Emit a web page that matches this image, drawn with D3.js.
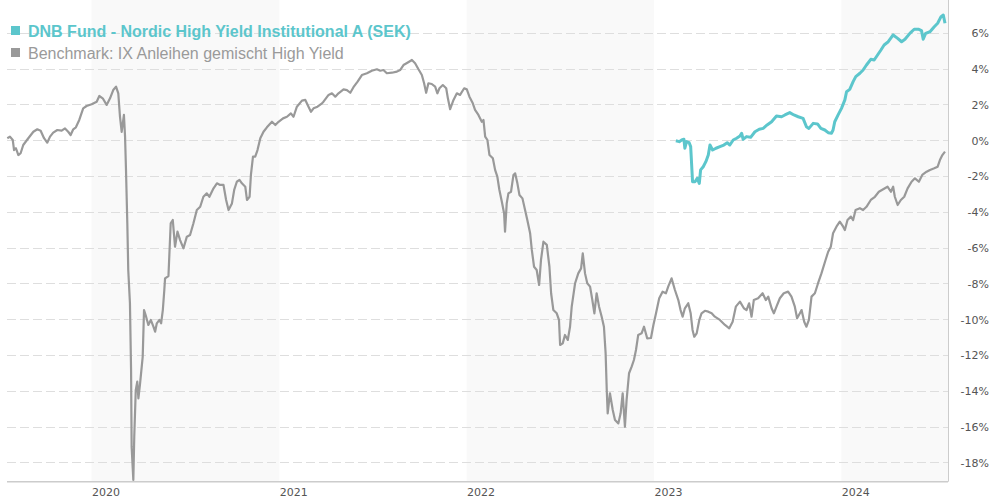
<!DOCTYPE html>
<html>
<head>
<meta charset="utf-8">
<script src="https://cdn.jsdelivr.net/npm/d3@7"></script>
<style>
  html, body { margin: 0; padding: 0; background: #fff; }
  svg { display: block; }
</style>
</head>
<body>
<div id="chart"></div>
<script>
// ---------- DATA (dates as decimal years, values in %) ----------
const seriesNames = ["DNB Fund - Nordic High Yield Institutional A (SEK)", "Benchmark: IX Anleihen gemischt High Yield"];
const xTickLabels = [2020, 2021, 2022, 2023, 2024];
const yTickValues = [6, 4, 2, 0, -2, -4, -6, -8, -10, -12, -14, -16, -18];

const benchmarkDates = [
2019.551,2019.565,2019.580,2019.587,2019.597,2019.610,2019.622,2019.636,2019.663,2019.690,
2019.711,2019.729,2019.747,2019.764,2019.779,2019.796,2019.818,2019.841,2019.859,2019.876,
2019.889,2019.903,2019.917,2019.935,2019.956,2019.974,2020.001,2020.028,2020.042,2020.060,
2020.081,2020.099,2020.116,2020.131,2020.143,2020.152,2020.161,2020.173,2020.179,2020.184,
2020.191,2020.196,2020.205,2020.211,2020.214,2020.223,2020.228,2020.236,2020.244,2020.250,
2020.259,2020.273,2020.280,2020.291,2020.303,2020.316,2020.330,2020.339,2020.348,2020.362,
2020.371,2020.380,2020.388,2020.392,2020.410,2020.422,2020.433,2020.445,2020.458,2020.472,
2020.490,2020.508,2020.525,2020.543,2020.561,2020.579,2020.596,2020.614,2020.628,2020.650,
2020.668,2020.685,2020.703,2020.717,2020.730,2020.748,2020.760,2020.774,2020.788,2020.801,
2020.819,2020.828,2020.842,2020.849,2020.860,2020.872,2020.884,2020.899,2020.916,2020.934,
2020.961,2020.979,2020.996,2021.020,2021.041,2021.062,2021.076,2021.094,2021.121,2021.139,
2021.156,2021.169,2021.183,2021.204,2021.228,2021.236,2021.263,2021.281,2021.299,2021.316,
2021.343,2021.361,2021.379,2021.396,2021.418,2021.441,2021.468,2021.494,2021.521,2021.539,
2021.556,2021.574,2021.601,2021.628,2021.645,2021.663,2021.684,2021.708,2021.725,2021.743,
2021.761,2021.773,2021.784,2021.796,2021.814,2021.832,2021.844,2021.855,2021.873,2021.891,
2021.900,2021.912,2021.930,2021.948,2021.965,2021.987,2022.001,2022.015,2022.033,2022.045,
2022.063,2022.081,2022.090,2022.099,2022.111,2022.122,2022.140,2022.152,2022.164,2022.175,
2022.188,2022.200,2022.205,2022.214,2022.223,2022.237,2022.250,2022.259,2022.271,2022.282,
2022.298,2022.312,2022.324,2022.339,2022.348,2022.360,2022.374,2022.387,2022.397,2022.410,
2022.428,2022.442,2022.451,2022.463,2022.481,2022.493,2022.499,2022.513,2022.525,2022.540,
2022.552,2022.561,2022.579,2022.596,2022.611,2022.620,2022.632,2022.644,2022.659,2022.671,
2022.682,2022.694,2022.707,2022.721,2022.733,2022.742,2022.748,2022.753,2022.765,2022.780,
2022.792,2022.810,2022.822,2022.833,2022.845,2022.854,2022.867,2022.881,2022.893,2022.904,
2022.916,2022.934,2022.947,2022.964,2022.984,2022.997,2023.011,2023.028,2023.046,2023.064,
2023.076,2023.094,2023.112,2023.130,2023.142,2023.153,2023.165,2023.183,2023.196,2023.206,
2023.215,2023.228,2023.242,2023.254,2023.272,2023.290,2023.308,2023.325,2023.352,2023.379,
2023.402,2023.420,2023.437,2023.459,2023.480,2023.494,2023.508,2023.521,2023.533,2023.556,
2023.580,2023.597,2023.610,2023.628,2023.640,2023.654,2023.672,2023.693,2023.716,2023.734,
2023.752,2023.764,2023.779,2023.788,2023.802,2023.814,2023.827,2023.841,2023.859,2023.876,
2023.894,2023.916,2023.930,2023.944,2023.956,2023.974,2023.992,2024.010,2024.019,2024.033,
2024.051,2024.063,2024.076,2024.099,2024.116,2024.134,2024.157,2024.179,2024.200,2024.223,
2024.246,2024.264,2024.276,2024.285,2024.300,2024.317,2024.335,2024.353,2024.374,2024.392,
2024.413,2024.431,2024.454,2024.472,2024.495,2024.513,2024.525,2024.538,2024.552
];
const benchmarkValues = [
0.11,0.20,0.01,-0.55,-0.45,-0.83,-0.73,-0.27,0.11,0.47,
0.61,0.53,0.11,-0.14,0.20,0.42,0.57,0.53,0.66,0.47,
0.29,0.61,0.72,1.13,1.78,1.91,2.01,2.15,2.47,2.34,
1.97,2.34,2.80,2.99,2.62,1.31,0.47,1.41,0.20,-1.66,
-4.64,-7.25,-9.11,-12.84,-17.12,-18.98,-16.56,-13.96,-13.49,-14.42,
-13.58,-12.09,-9.49,-9.86,-10.32,-10.04,-10.42,-10.70,-10.23,-10.04,
-10.23,-9.49,-8.37,-7.72,-7.59,-4.64,-4.46,-5.95,-5.11,-5.58,
-6.04,-5.39,-5.30,-4.64,-3.90,-3.72,-3.16,-2.97,-3.16,-2.69,
-2.41,-2.50,-2.50,-3.34,-3.90,-3.53,-2.78,-2.32,-2.22,-2.41,
-2.60,-3.34,-3.16,-1.94,-0.92,-0.92,-0.55,0.11,0.47,0.72,
1.03,0.85,1.03,1.22,1.31,1.50,1.31,1.87,2.21,2.25,
1.87,1.59,1.78,1.87,2.06,2.15,2.53,2.62,2.43,2.62,
2.84,2.80,2.65,2.96,3.27,3.64,3.74,3.88,3.96,3.88,
3.92,3.74,3.77,3.83,3.92,4.20,4.33,4.48,4.30,3.96,
3.64,3.18,2.65,3.18,3.14,2.99,2.62,2.90,3.08,2.90,
2.34,1.73,2.25,2.62,2.53,2.90,2.84,2.43,2.06,1.69,
1.41,1.03,1.13,0.20,0.01,-0.83,-1.01,-1.66,-2.04,-2.78,
-3.44,-4.08,-5.11,-3.53,-2.97,-2.88,-1.94,-1.85,-2.41,-3.06,
-3.25,-3.90,-4.46,-5.20,-6.13,-7.07,-7.25,-8.09,-6.69,-5.67,
-5.85,-7.07,-8.55,-9.49,-9.67,-10.04,-11.44,-11.35,-10.88,-11.16,
-10.42,-9.30,-7.99,-7.44,-7.16,-6.32,-7.44,-7.99,-8.18,-8.93,
-9.67,-8.55,-9.30,-9.86,-10.42,-11.91,-13.96,-15.26,-14.14,-15.07,
-15.63,-15.82,-15.26,-14.14,-16.01,-14.51,-13.02,-12.65,-12.28,-11.72,
-10.88,-10.79,-10.42,-11.07,-11.05,-10.32,-9.67,-8.83,-8.46,-8.55,
-8.18,-7.72,-8.37,-8.93,-9.49,-9.86,-9.39,-9.11,-9.67,-10.60,
-10.98,-10.79,-10.04,-9.67,-9.53,-9.58,-9.67,-9.86,-10.04,-10.32,
-10.51,-10.14,-9.30,-9.02,-9.39,-9.49,-9.11,-9.86,-8.93,-8.83,
-8.55,-8.93,-8.74,-9.39,-9.67,-9.30,-8.83,-8.55,-8.46,-8.74,
-9.30,-9.95,-9.67,-9.49,-10.14,-10.42,-10.04,-8.74,-8.55,-7.99,
-7.44,-6.69,-6.23,-5.95,-5.20,-4.83,-4.55,-4.83,-5.02,-4.46,
-4.27,-4.46,-3.90,-3.80,-3.90,-3.72,-3.34,-3.16,-2.88,-2.74,
-2.60,-2.88,-2.60,-3.16,-3.62,-3.34,-3.16,-2.69,-2.32,-2.13,
-2.32,-1.94,-1.76,-1.66,-1.57,-1.48,-1.11,-0.83,-0.64
];

const fundDates = [
2023.117,2023.135,2023.148,2023.160,2023.165,2023.174,2023.188,2023.196,2023.206,2023.219,
2023.231,2023.242,2023.249,2023.263,2023.277,2023.290,2023.299,2023.313,2023.331,2023.352,
2023.373,2023.391,2023.405,2023.423,2023.441,2023.459,2023.468,2023.476,2023.494,2023.516,
2023.539,2023.562,2023.583,2023.604,2023.628,2023.654,2023.681,2023.699,2023.725,2023.747,
2023.770,2023.796,2023.814,2023.827,2023.850,2023.873,2023.891,2023.912,2023.930,2023.948,
2023.956,2023.965,2023.983,2024.001,2024.019,2024.028,2024.045,2024.063,2024.077,2024.099,
2024.116,2024.134,2024.157,2024.175,2024.193,2024.211,2024.228,2024.250,2024.276,2024.300,
2024.321,2024.339,2024.365,2024.388,2024.410,2024.427,2024.436,2024.449,2024.472,2024.495,
2024.513,2024.531,2024.543,2024.552
];
const fundValues = [
-0.03,-0.08,0.01,0.05,-0.45,-0.08,-0.14,-0.36,-2.32,-2.32,
-2.13,-2.41,-1.66,-1.48,-1.20,-0.83,-0.27,-0.55,-0.45,-0.36,
-0.27,-0.14,-0.27,0.01,0.11,0.23,0.39,0.05,0.20,0.16,
0.47,0.61,0.66,0.85,1.03,1.35,1.31,1.41,1.54,1.41,
1.31,1.22,0.75,0.66,0.94,0.91,0.66,0.57,0.42,0.39,
0.57,1.03,1.41,1.78,2.25,2.71,2.84,3.27,3.55,3.74,
3.92,4.20,4.52,4.48,4.76,5.04,5.32,5.50,5.88,5.69,
5.50,5.64,5.97,6.20,6.20,6.12,5.64,5.97,6.06,6.34,
6.53,6.90,6.99,6.53
];

// ---------- helpers ----------
function fromDecimalYear(t) {
  const y = Math.floor(t);
  const s = Date.UTC(y, 0, 1), e = Date.UTC(y + 1, 0, 1);
  return new Date(s + (t - y) * (e - s));
}
const benchmark = benchmarkDates.map((d, i) => ({ date: fromDecimalYear(d), value: benchmarkValues[i] }));
const fund = fundDates.map((d, i) => ({ date: fromDecimalYear(d), value: fundValues[i] }));

// ---------- layout ----------
const W = 990, H = 500;
const plot = { left: 7, right: 948, top: 0, bottom: 481.7 };
const colors = { fund: "#5cc6cc", bench: "#999999" };

const x = d3.scaleUtc()
  .domain([fromDecimalYear(2019.5493), fromDecimalYear(2024.5627)])
  .range([plot.left, plot.right - 1]);
const y = d3.scaleLinear()
  .domain([-19.078, 7.832])
  .range([plot.bottom, plot.top]);

const svg = d3.select("#chart").append("svg")
  .attr("width", W).attr("height", H);

// alternating year bands
const bandYears = xTickLabels.filter((yr, i) => i % 2 === 0);
svg.append("g").selectAll("rect").data(bandYears).join("rect")
  .attr("x", d => x(new Date(Date.UTC(d, 0, 1))))
  .attr("y", plot.top)
  .attr("width", d => Math.min(x(new Date(Date.UTC(d + 1, 0, 1))), plot.right) - x(new Date(Date.UTC(d, 0, 1))))
  .attr("height", plot.bottom - plot.top)
  .attr("fill", "#f9f9f9");

// horizontal dashed grid
svg.append("g").selectAll("line").data(yTickValues).join("line")
  .attr("x1", plot.left).attr("x2", plot.right)
  .attr("y1", d => Math.round(y(d)) + 0.5).attr("y2", d => Math.round(y(d)) + 0.5)
  .attr("stroke", "#dedede").attr("stroke-width", 1)
  .attr("stroke-dasharray", "9,4");

// right y-axis labels
const yAxis = d3.axisRight(y).tickValues(yTickValues).tickSize(0).tickFormat(d => d + "%");
const gy = svg.append("g").attr("transform", `translate(${plot.right},0)`).call(yAxis);
gy.select(".domain").attr("stroke", "#cccccc").attr("d", `M0.5,${plot.top}V${plot.bottom}`);
gy.selectAll("text")
  .attr("x", 989 - plot.right).attr("text-anchor", "end")
  .attr("dy", "0.35em")
  .attr("fill", "#555").style("font-family", "'DejaVu Sans', Verdana, sans-serif").style("font-size", "11px");

// bottom x-axis
const xAxis = d3.axisBottom(x)
  .tickValues(xTickLabels.map(yr => new Date(Date.UTC(yr, 0, 1))))
  .tickSize(0).tickFormat(d3.utcFormat("%Y"));
const gx = svg.append("g").attr("transform", `translate(0,${plot.bottom})`).call(xAxis);
gx.select(".domain").attr("stroke", "#cccccc").attr("stroke-width", 1.5)
  .attr("d", `M${plot.left},0H${plot.right}`);
gx.selectAll("text")
  .attr("text-anchor", "start").attr("x", 0).attr("y", 14).attr("dy", 0)
  .attr("fill", "#555").style("font-family", "'DejaVu Sans', Verdana, sans-serif").style("font-size", "11px");

// lines
const line = d3.line().x(d => x(d.date)).y(d => y(d.value)).curve(d3.curveLinear);
svg.append("path").datum(benchmark)
  .attr("d", line).attr("fill", "none")
  .attr("stroke", colors.bench).attr("stroke-width", 2.2).attr("stroke-linejoin", "round");
svg.append("path").datum(fund)
  .attr("d", line).attr("fill", "none")
  .attr("stroke", colors.fund).attr("stroke-width", 3).attr("stroke-linejoin", "round");

// legend
const legend = svg.append("g").style("font-family", "'Liberation Sans', Arial, sans-serif").style("font-size", "16px");
const legendItems = [
  { name: seriesNames[0], color: colors.fund, weight: "bold", textColor: colors.fund, base: 37 },
  { name: seriesNames[1], color: colors.bench, weight: "normal", textColor: "#9a9a9a", base: 59 }
];
legendItems.forEach(it => {
  legend.append("rect").attr("x", 11).attr("y", it.base - 11).attr("width", 9).attr("height", 9).attr("fill", it.color);
  legend.append("text").attr("x", 28).attr("y", it.base).attr("fill", it.textColor)
    .style("font-weight", it.weight).text(it.name);
});
</script>
</body>
</html>
